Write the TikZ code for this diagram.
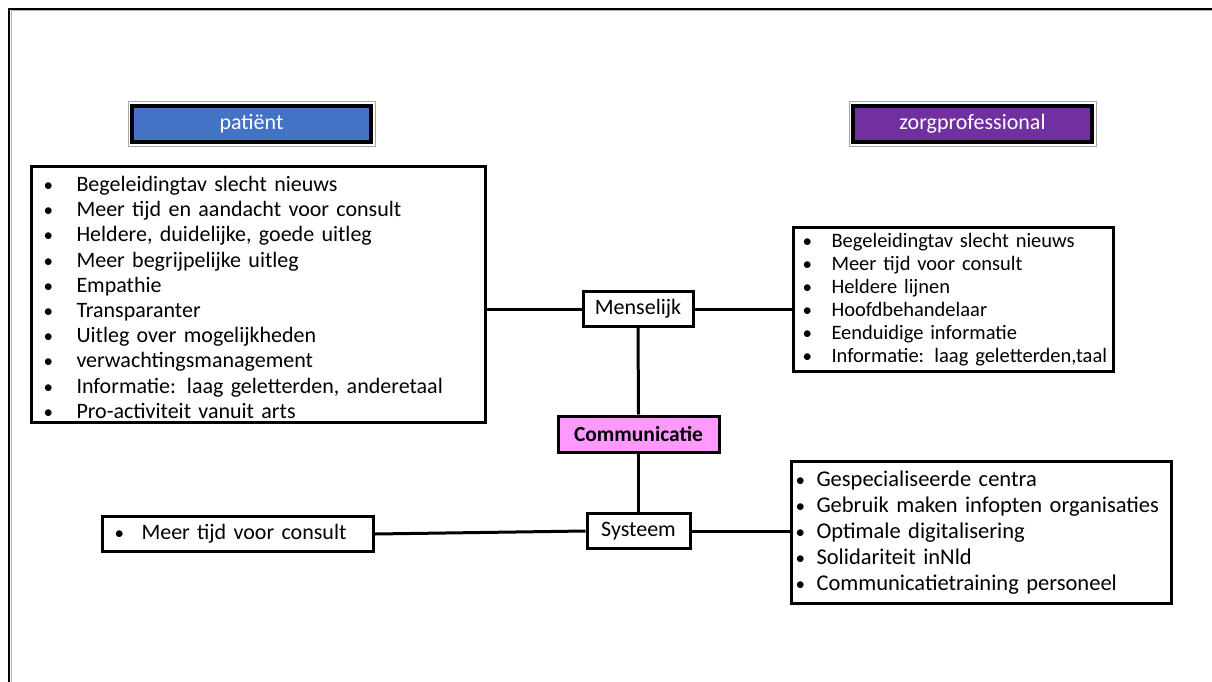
\documentclass[tikz,border=0pt]{standalone}
\usepackage{fontspec}
\setmainfont{Carlito}
\definecolor{patblue}{HTML}{4472C4}
\definecolor{zorgpurple}{HTML}{7030A0}
\definecolor{compink}{HTML}{FF99FF}
% #1 width of bullet column, #2 offset of bullet, #3 text
\newcommand\bitem[3]{\mbox{\makebox[#1pt][l]{\hspace*{#2pt}{\fontsize{19}{19}\selectfont\textbullet}}#3}}
\newcommand\fsz[2]{\fontsize{#1}{#2}\selectfont\spaceskip=0.19em plus 0.05em minus 0.05em\relax}
\begin{document}
\begin{tikzpicture}[x=1pt,y=-1pt,
  titlebox/.style={draw=black,line width=4pt,minimum width=239pt,minimum height=36pt,inner sep=0pt,text=white,font=\fsz{22}{26}},
  listbox/.style={draw=black,line width=3pt,anchor=north west,align=left,inner ysep=0pt},
  smallbox/.style={draw=black,line width=3pt,fill=white,inner sep=0pt,font=\fsz{22}{26}},
  conn/.style={line width=3pt}]
\useasboundingbox (0,0) rectangle (1212,682);
% outer frame
\draw[gray!60,line width=1pt] (11,682) -- (11,11) -- (1212,11);
\draw[black,line width=2pt] (9,682) -- (9,9) -- (1212,9);

% title boxes
\draw[gray!70,line width=1pt] (128,102) rectangle (375,146);
\node[titlebox,fill=patblue] (pat) at (251.5,124) {patiënt};
\draw[gray!70,line width=1pt] (849,102) rectangle (1096,146);
\node[titlebox,fill=zorgpurple] (zorg) at (972.5,124) {zorgprofessional};

% left big list
\node[listbox,minimum width=454pt,minimum height=256pt,text width=422pt,inner xsep=16pt,font=\fsz{22}{25.2}] (lb) at (30,165) {%
\rule{0pt}{21pt}\bitem{29}{-4}{Begeleidingtav slecht nieuws}\\
\bitem{29}{-4}{Meer tijd en aandacht voor consult}\\
\bitem{29}{-4}{Heldere, duidelijke, goede uitleg}\\
\bitem{29}{-4}{Meer begrijpelijke uitleg}\\
\bitem{29}{-4}{Empathie}\\
\bitem{29}{-4}{Transparanter}\\
\bitem{29}{-4}{Uitleg over mogelijkheden}\\
\bitem{29}{-4}{verwachtingsmanagement}\\
\bitem{29}{-4}{Informatie: laag geletterden, anderetaal}\\
\bitem{29}{-4}{Pro-activiteit vanuit arts}};

% right top list
\node[listbox,minimum width=320pt,minimum height=144pt,text width=300pt,inner xsep=10pt,font=\fsz{20.5}{23}] (rt) at (792,226) {%
\bitem{28}{-1}{Begeleidingtav slecht nieuws}\\
\bitem{28}{-1}{Meer tijd voor consult}\\
\bitem{28}{-1}{Heldere lijnen}\\
\bitem{28}{-1}{Hoofdbehandelaar}\\
\bitem{28}{-1}{Eenduidige informatie}\\
\bitem{28}{-1}{Informatie: laag geletterden,taal}};

% right bottom list
\node[listbox,minimum width=380pt,minimum height=142pt,text width=364pt,inner xsep=8pt,font=\fsz{22.5}{26}] (rb) at (790,460) {%
\bitem{17}{-4}{Gespecialiseerde centra}\\
\bitem{17}{-4}{Gebruik maken infopten organisaties}\\
\bitem{17}{-4}{Optimale digitalisering}\\
\bitem{17}{-4}{Solidariteit inNld}\\
\bitem{17}{-4}{Communicatietraining personeel}};

% left bottom list
\node[listbox,minimum width=271pt,minimum height=35pt,text width=243pt,inner xsep=14pt,font=\fsz{22}{26}] (lbb) at (101,515) {%
\bitem{25}{-2}{Meer tijd voor consult}};

% centre nodes
\node[smallbox,minimum width=110pt,minimum height=35pt] (men) at (638,309) {Menselijk};
\node[smallbox,fill=compink,minimum width=161pt,minimum height=36pt,font=\fsz{21.5}{26}\bfseries] (com) at (638.5,434) {Communicatie};
\node[smallbox,minimum width=103pt,minimum height=35pt] (sys) at (638.5,531) {Systeem};

% connectors
\draw[conn] (men.west) -- (men.west -| lb.east);
\draw[conn] (men.east) -- (men.east -| rt.west);
\draw[conn] (men.south) -- (com.north);
\draw[conn] (com.south) -- (sys.north);
\draw[conn] (sys.west) -- (lbb.east);
\draw[conn] (sys.east) -- (sys.east -| rb.west);
\end{tikzpicture}
\end{document}
